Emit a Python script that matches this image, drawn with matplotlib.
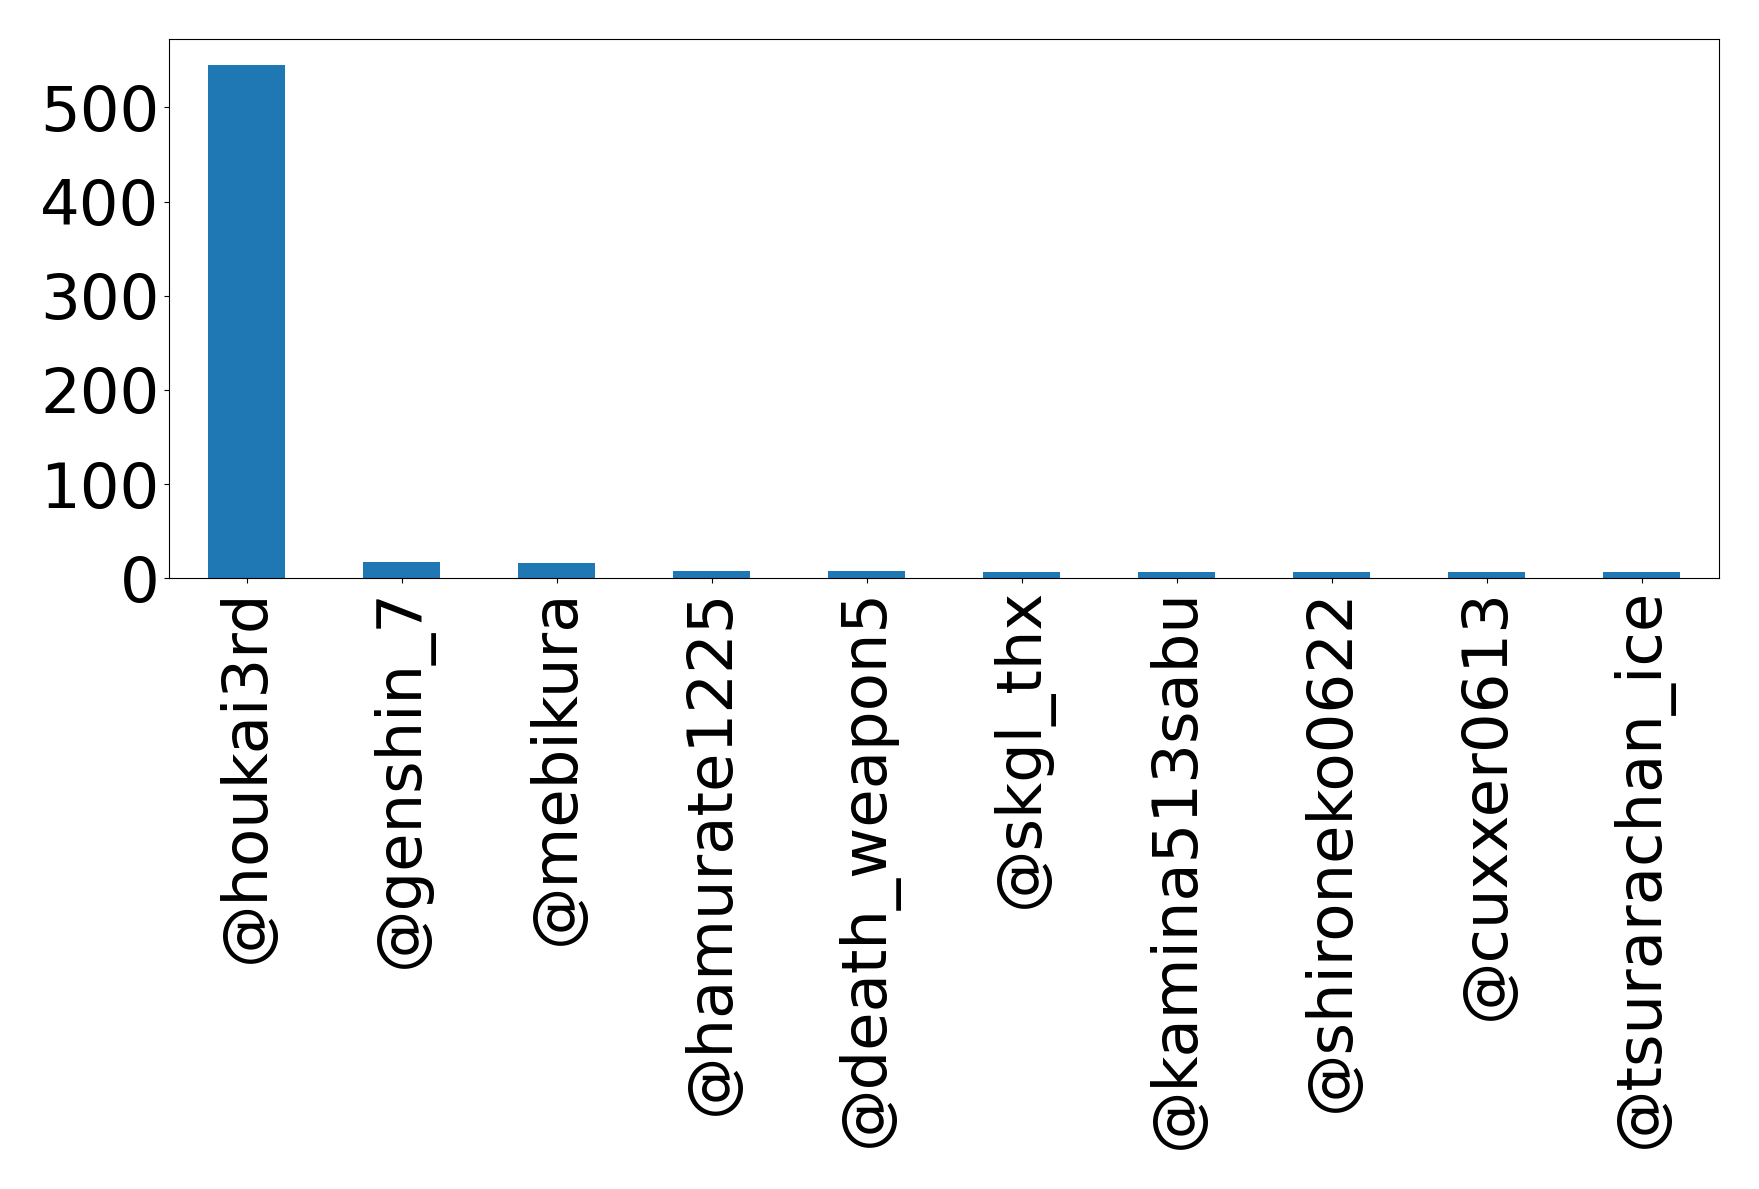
import matplotlib
matplotlib.use("Agg")
import matplotlib.pyplot as plt

accounts = ["@houkai3rd", "@genshin_7", "@mebikura", "@hamurate1225", "@death_weapon5",
            "@skgl_thx", "@kamina513sabu", "@shironeko0622", "@cuxxer0613", "@tsurarachan_ice"]
counts = [545, 17, 16, 8, 8, 7, 7, 7, 7, 7]

fig = plt.figure(figsize=(17.59, 11.89), dpi=100)
ax = fig.add_axes([169/1759, 1-578.3/1189, (1719-169)/1759, (578.3-39.3)/1189])
x = list(range(len(accounts)))
ax.bar(x, counts, width=0.5, color="#1f77b4")
ax.set_xlim(-0.5, len(accounts) - 0.5)
ax.set_xticks(x)
ax.set_xticklabels(accounts, rotation=90, fontsize=45)
ax.set_yticks([0, 100, 200, 300, 400, 500])
ax.tick_params(axis="y", labelsize=45)
fig.savefig("out.png", dpi=100)
